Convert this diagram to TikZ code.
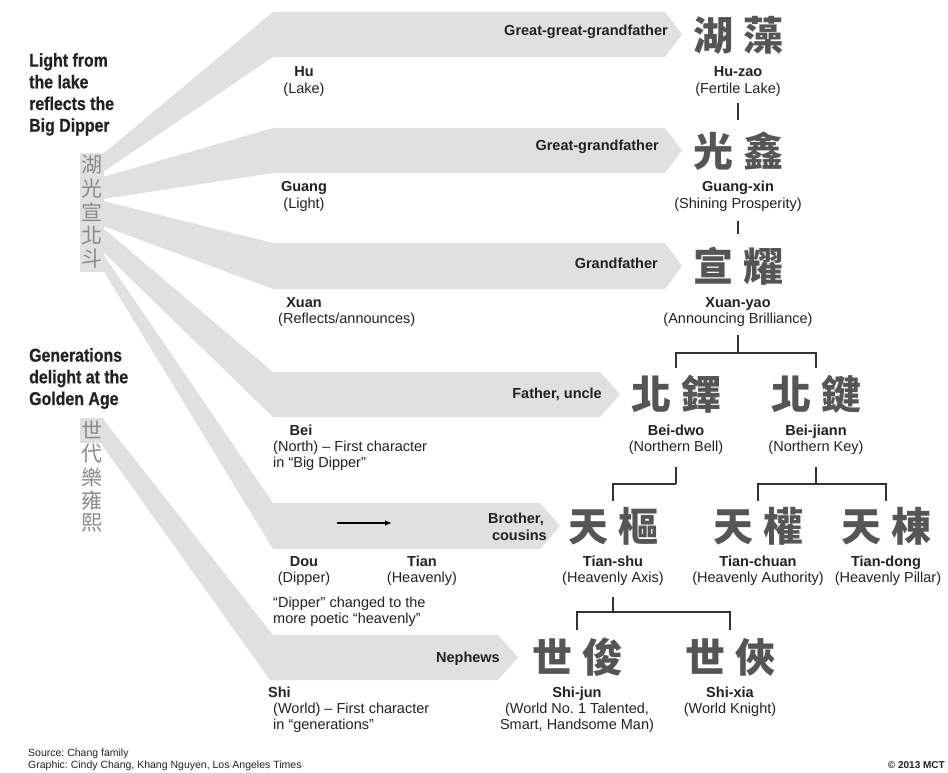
\documentclass[tikz,border=0pt]{standalone}
\usepackage{fontspec}
\setmainfont{Liberation Sans}
\newfontfamily\cjk{Noto Sans CJK TC}
\newfontfamily\headfont{Liberation Sans}[FakeStretch=0.86,FakeBold=0.6]
\usetikzlibrary{calc,arrows.meta}
\definecolor{bandgray}{HTML}{E0E0E0}
\definecolor{colgray}{HTML}{8A8A8A}
\definecolor{chargray}{HTML}{555555}
\definecolor{txt}{HTML}{222222}
\definecolor{linec}{HTML}{333333}
\frenchspacing
\tikzset{
  band/.style={fill=bandgray, draw=none},
  lbl/.style={font=\fontsize{14.5}{16.5}\selectfont\bfseries, text=txt, inner sep=0, anchor=base},
  gl/.style={font=\fontsize{14.5}{16.5}\selectfont, text=txt, inner sep=0, anchor=base},
  big/.style={font=\cjk\bfseries\fontsize{40}{40}\selectfont, text=chargray, inner sep=0},
  colch/.style={font=\cjk\fontsize{21}{21}\selectfont, text=colgray, inner sep=0},
  head/.style={font=\headfont\bfseries\fontsize{18.5}{21.7}\selectfont, align=left, text=txt, inner sep=0, anchor=north west},
  src/.style={font=\fontsize{10.5}{12}\selectfont, text=txt, inner sep=0, anchor=base west},
  tree/.style={draw=linec, line width=1.5},
}
\newcommand{\gapc}{\hspace{10pt}}
\begin{document}
\begin{tikzpicture}[x=1pt,y=-1pt]
\useasboundingbox (0,0) rectangle (948,773);
\fill[white] (0,0) rectangle (948,773);

% bands
\fill[band] (103,154) -- (273,12) -- (665,12) -- (682,34.5) -- (665,57) -- (273,57) -- (103,172) -- cycle;
\fill[band] (103,177) -- (273,128) -- (665,128) -- (682,150.5) -- (665,173) -- (273,173) -- (103,199) -- cycle;
\fill[band] (103,201) -- (273,243) -- (665,243) -- (682,266) -- (665,289) -- (273,289) -- (103,226) -- cycle;
\fill[band] (103,228) -- (273,372) -- (600,372) -- (620,394.5) -- (600,417) -- (273,417) -- (103,252) -- cycle;
\fill[band] (103,254) -- (273,503) -- (540,503) -- (560,526) -- (540,549) -- (273,549) -- (103,270) -- cycle;
\fill[band] (103,419) -- (273,635) -- (498,635) -- (518,657.5) -- (498,680) -- (270,680) -- (100,442) -- cycle;

% column backgrounds
\fill[band] (80,153) rectangle (104,272);
\fill[band] (80,418) rectangle (104,443);

% column characters
\node[colch] (c1) at (92,165) {湖};
\node[colch] (c2) at (92,188.5) {光};
\node[colch] (c3) at (92,212) {宣};
\node[colch] (c4) at (92,235.5) {北};
\node[colch] (c5) at (92,259) {斗};
\node[colch] (d1) at (92,430) {世};
\node[colch] (d2) at (92,454) {代};
\node[colch] (d3) at (92,477) {樂};
\node[colch] (d4) at (92,500) {雍};
\node[colch] (d5) at (92,523) {熙};

% headings
\node[head] (h1) at (29,53) {Light from\\the lake\\reflects the\\Big Dipper};
\node[head] (h2) at (29,348) {Generations\\delight at the\\Golden Age};

% band labels
\node[lbl, anchor=base east] (l1) at (668,35.5) {Great-great-grandfather};
\node[lbl, anchor=base east] (l2) at (659,150.5) {Great-grandfather};
\node[lbl, anchor=base east] (l3) at (658,268.5) {Grandfather};
\node[lbl, anchor=base east] (l4) at (602,398.5) {Father, uncle};
\node[lbl, anchor=base east] (l5a) at (544,523.5) {Brother,};
\node[lbl, anchor=base east] (l5b) at (547,540.5) {cousins};
\node[lbl, anchor=base east] (l6) at (500,662.5) {Nephews};

% left words
\node[lbl] (w1) at (304,77) {Hu};
\node[gl] (w1g) at (304,94) {(Lake)};
\node[lbl] (w2) at (304,192) {Guang};
\node[gl] (w2g) at (304,208) {(Light)};
\node[lbl] (w3) at (304,307) {Xuan};
\node[gl, anchor=base west] (w3g) at (278,323) {(Reflects/announces)};
\node[lbl] (w4) at (301,435) {Bei};
\node[gl, anchor=base west] (w4g) at (273,451) {(North) – First character};
\node[gl, anchor=base west] (w4h) at (273,467.5) {in “Big Dipper”};
\node[lbl] (w5) at (304,566) {Dou};
\node[gl] (w5g) at (304,582) {(Dipper)};
\node[lbl] (w5t) at (422,566) {Tian};
\node[gl] (w5tg) at (422,582) {(Heavenly)};
\node[gl, anchor=base west] (w5n) at (273,607.5) {“Dipper” changed to the};
\node[gl, anchor=base west] (w5m) at (273,623.5) {more poetic “heavenly”};
\node[lbl, anchor=base west] (w6) at (268,697) {Shi};
\node[gl, anchor=base west] (w6g) at (273,713) {(World) – First character};
\node[gl, anchor=base west] (w6h) at (273,729.5) {in “generations”};

\coordinate (aA) at (337,523);
\coordinate (aB) at (392,523);
\draw[-{Latex[length=7pt,width=5.5pt]}, line width=1.3, black] (aA) -- (aB);

% names
\node[big] (hz) at (738,35) {湖\gapc 藻};
\node[lbl] (hzn) at (738,77) {Hu-zao};
\node[gl] (hzg) at (738,94) {(Fertile Lake)};
\node[big] (gx) at (738,151) {光\gapc 鑫};
\node[lbl] (gxn) at (738,192) {Guang-xin};
\node[gl] (gxg) at (738,208) {(Shining Prosperity)};
\node[big] (xy) at (738,266) {宣\gapc 耀};
\node[lbl] (xyn) at (738,307) {Xuan-yao};
\node[gl] (xyg) at (738,323) {(Announcing Brilliance)};
\node[big] (bd) at (676,394.5) {北\gapc 鐸};
\node[lbl] (bdn) at (676,435) {Bei-dwo};
\node[gl] (bdg) at (676,451) {(Northern Bell)};
\node[big] (bj) at (816,394.5) {北\gapc 鍵};
\node[lbl] (bjn) at (816,435) {Bei-jiann};
\node[gl] (bjg) at (816,451) {(Northern Key)};
\node[big] (ts) at (613,526) {天\gapc 樞};
\node[lbl] (tsn) at (613,566) {Tian-shu};
\node[gl] (tsg) at (613,582) {(Heavenly Axis)};
\node[big] (tc) at (758,526) {天\gapc 權};
\node[lbl] (tcn) at (758,566) {Tian-chuan};
\node[gl] (tcg) at (758,582) {(Heavenly Authority)};
\node[big] (td) at (886,526) {天\gapc 棟};
\node[lbl] (tdn) at (886,566) {Tian-dong};
\node[gl] (tdg) at (888,582) {(Heavenly Pillar)};
\node[big] (sj) at (577,657.5) {世\gapc 俊};
\node[lbl] (sjn) at (577,697) {Shi-jun};
\node[gl, align=center, anchor=north] (sjg) at (577,702.5) {(World No. 1 Talented,\\Smart, Handsome Man)};
\node[big] (sx) at (730,657.5) {世\gapc 俠};
\node[lbl] (sxn) at (730,697) {Shi-xia};
\node[gl] (sxg) at (730,713) {(World Knight)};

% tree
\draw[tree] ($(hzg.south)+(0,6)$) -- ($(gx.north)+(0,-11)$);
\draw[tree] ($(gxg.south)+(0,10)$) -- ($(xy.north)+(0,-13)$);
\draw[tree] ($(xyg.south)+(0,9)$) -- ($(xyg.south)+(0,27)$) coordinate (j1);
\draw[tree] ($(bd.north)+(0,-7)$) |- (j1) -| ($(bj.north)+(0,-7)$);
\draw[tree] ($(bdg.south)+(0,13)$) -- ($(bdg.south)+(0,30)$) coordinate (j2);
\draw[tree] ($(ts.north)+(0,-6)$) |- (j2);
\draw[tree] ($(bjg.south)+(0,13)$) -- ($(bjg.south)+(0,30)$) coordinate (j3);
\draw[tree] ($(tc.north)+(0,-6)$) |- (j3) -| ($(td.north)+(0,-6)$);
\draw[tree] ($(tsg.south)+(0,12)$) -- ($(tsg.south)+(0,27)$) coordinate (j4);
\draw[tree] ($(sj.north)+(0,-8)$) |- (j4) -| ($(sx.north)+(0,-8)$);

% credits
\node[src] (s1) at (28,756) {Source: Chang family};
\node[src] (s2) at (28,768) {Graphic: Cindy Chang, Khang Nguyen, Los Angeles Times};
\node[src, font=\fontsize{10}{12}\selectfont\bfseries, anchor=base east] (cp) at (945,768) {© 2013 MCT};
\end{tikzpicture}
\end{document}
